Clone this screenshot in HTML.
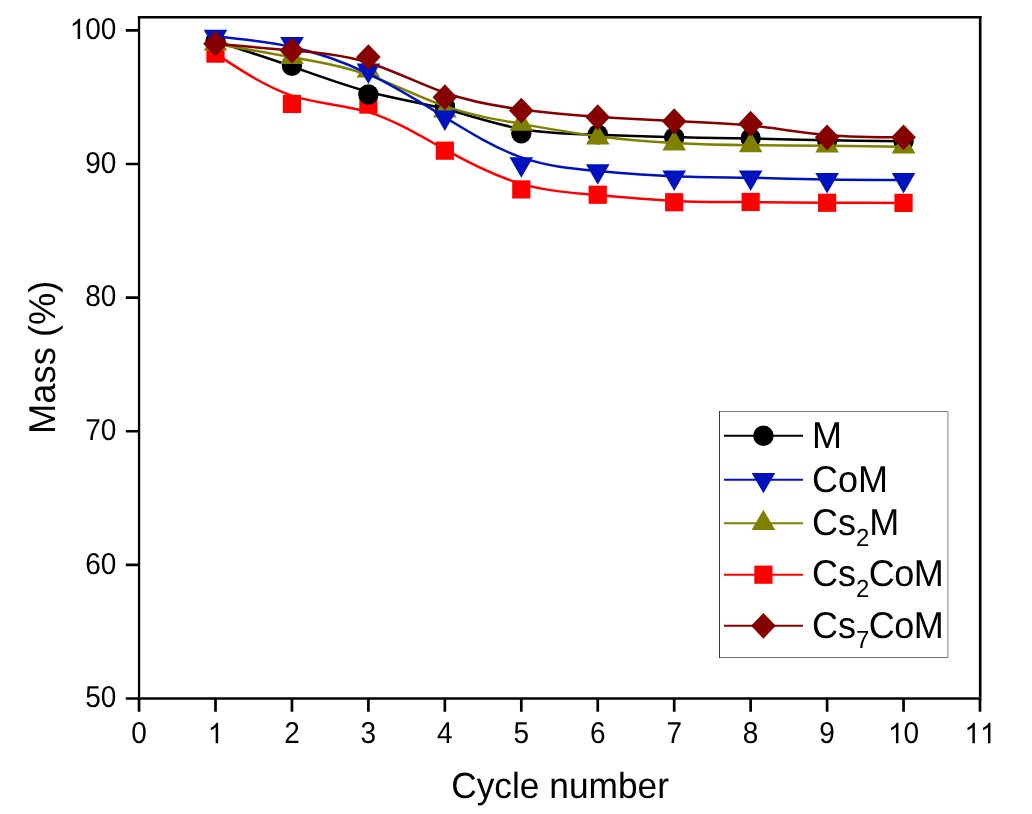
<!DOCTYPE html>
<html><head><meta charset="utf-8"><style>
html,body{margin:0;padding:0;background:#fff;}
svg{display:block;will-change:transform;}
text{font-family:"Liberation Sans",sans-serif;fill:#000;text-rendering:geometricPrecision;}
</style></head><body>
<svg width="1032" height="814" viewBox="0 0 1032 814">
<path d="M215.50,53.65 C240.98,70.40 266.47,87.14 291.95,95.63 C317.43,104.11 342.92,104.34 368.40,112.13 C393.88,119.93 419.37,135.29 444.85,149.43 C470.33,163.57 495.82,176.49 521.30,183.84 C546.78,191.19 572.27,192.97 597.75,195.11 C623.23,197.25 648.72,199.74 674.20,200.94 C699.68,202.15 725.17,202.06 750.65,202.15 C776.13,202.24 801.62,202.50 827.10,202.66 C852.58,202.81 878.07,202.86 903.55,202.90" fill="none" stroke="#FF0000" stroke-width="2.5"/>
<rect x="206.40" y="44.55" width="18.20" height="18.20" fill="#FF0000"/>
<rect x="282.85" y="94.79" width="18.20" height="18.20" fill="#FF0000"/>
<rect x="359.30" y="95.46" width="18.20" height="18.20" fill="#FF0000"/>
<rect x="435.75" y="141.56" width="18.20" height="18.20" fill="#FF0000"/>
<rect x="512.20" y="180.31" width="18.20" height="18.20" fill="#FF0000"/>
<rect x="588.65" y="185.65" width="18.20" height="18.20" fill="#FF0000"/>
<rect x="665.10" y="193.14" width="18.20" height="18.20" fill="#FF0000"/>
<rect x="741.55" y="192.87" width="18.20" height="18.20" fill="#FF0000"/>
<rect x="818.00" y="193.67" width="18.20" height="18.20" fill="#FF0000"/>
<rect x="894.45" y="193.80" width="18.20" height="18.20" fill="#FF0000"/>
<path d="M215.50,41.09 C240.98,49.33 266.47,57.57 291.95,66.48 C317.43,75.39 342.92,84.96 368.40,91.75 C393.88,98.55 419.37,102.55 444.85,109.01 C470.33,115.47 495.82,124.38 521.30,129.01 C546.78,133.64 572.27,134.00 597.75,134.71 C623.23,135.43 648.72,136.49 674.20,137.14 C699.68,137.79 725.17,138.01 750.65,138.50 C776.13,138.99 801.62,139.75 827.10,140.26 C852.58,140.77 878.07,141.04 903.55,141.30" fill="none" stroke="#000000" stroke-width="2.5"/>
<circle cx="215.50" cy="41.09" r="10.20" fill="#000000"/>
<circle cx="291.95" cy="65.81" r="10.20" fill="#000000"/>
<circle cx="368.40" cy="94.54" r="10.20" fill="#000000"/>
<circle cx="444.85" cy="106.56" r="10.20" fill="#000000"/>
<circle cx="521.30" cy="133.29" r="10.20" fill="#000000"/>
<circle cx="597.75" cy="134.36" r="10.20" fill="#000000"/>
<circle cx="674.20" cy="137.56" r="10.20" fill="#000000"/>
<circle cx="750.65" cy="138.23" r="10.20" fill="#000000"/>
<circle cx="827.10" cy="140.50" r="10.20" fill="#000000"/>
<circle cx="903.55" cy="141.30" r="10.20" fill="#000000"/>
<path d="M215.50,43.76 C240.98,48.26 266.47,52.76 291.95,57.26 C317.43,61.76 342.92,66.25 368.40,75.14 C393.88,84.03 419.37,97.30 444.85,106.16 C470.33,115.03 495.82,119.48 521.30,123.98 C546.78,128.48 572.27,133.02 597.75,136.32 C623.23,139.61 648.72,141.66 674.20,142.97 C699.68,144.29 725.17,144.87 750.65,145.20 C776.13,145.54 801.62,145.62 827.10,145.83 C852.58,146.03 878.07,146.34 903.55,146.65" fill="none" stroke="#808000" stroke-width="2.5"/>
<polygon points="203.70,50.57 227.30,50.57 215.50,30.14" fill="#808000"/>
<polygon points="280.15,64.07 303.75,64.07 291.95,43.63" fill="#808000"/>
<polygon points="356.60,77.57 380.20,77.57 368.40,57.13" fill="#808000"/>
<polygon points="433.05,117.38 456.65,117.38 444.85,96.95" fill="#808000"/>
<polygon points="509.50,130.75 533.10,130.75 521.30,110.31" fill="#808000"/>
<polygon points="585.95,144.38 609.55,144.38 597.75,123.94" fill="#808000"/>
<polygon points="662.40,150.52 686.00,150.52 674.20,130.08" fill="#808000"/>
<polygon points="738.85,152.26 762.45,152.26 750.65,131.82" fill="#808000"/>
<polygon points="815.30,152.53 838.90,152.53 827.10,132.09" fill="#808000"/>
<polygon points="891.75,153.46 915.35,153.46 903.55,133.02" fill="#808000"/>
<path d="M215.50,36.55 C240.98,38.95 266.47,41.36 291.95,46.99 C317.43,52.63 342.92,61.49 368.40,73.74 C393.88,85.99 419.37,101.62 444.85,117.23 C470.33,132.84 495.82,148.43 521.30,157.41 C546.78,166.38 572.27,168.74 597.75,170.97 C623.23,173.20 648.72,175.29 674.20,176.34 C699.68,177.38 725.17,177.38 750.65,177.81 C776.13,178.23 801.62,179.07 827.10,179.50 C852.58,179.92 878.07,179.92 903.55,179.92" fill="none" stroke="#0012BE" stroke-width="2.5"/>
<polygon points="203.70,29.73 227.30,29.73 215.50,50.17" fill="#0012BE"/>
<polygon points="280.15,36.95 303.75,36.95 291.95,57.39" fill="#0012BE"/>
<polygon points="356.60,63.54 380.20,63.54 368.40,83.98" fill="#0012BE"/>
<polygon points="433.05,110.44 456.65,110.44 444.85,130.88" fill="#0012BE"/>
<polygon points="509.50,157.21 533.10,157.21 521.30,177.65" fill="#0012BE"/>
<polygon points="585.95,164.29 609.55,164.29 597.75,184.73" fill="#0012BE"/>
<polygon points="662.40,170.57 686.00,170.57 674.20,191.01" fill="#0012BE"/>
<polygon points="738.85,170.57 762.45,170.57 750.65,191.01" fill="#0012BE"/>
<polygon points="815.30,173.11 838.90,173.11 827.10,193.55" fill="#0012BE"/>
<polygon points="891.75,173.11 915.35,173.11 903.55,193.55" fill="#0012BE"/>
<path d="M215.50,43.76 C240.98,46.03 266.47,48.31 291.95,50.53 C317.43,52.76 342.92,54.94 368.40,62.71 C393.88,70.49 419.37,83.85 444.85,92.76 C470.33,101.66 495.82,106.12 521.30,109.46 C546.78,112.80 572.27,115.03 597.75,116.81 C623.23,118.59 648.72,119.93 674.20,120.99 C699.68,122.06 725.17,122.87 750.65,125.54 C776.13,128.21 801.62,132.75 827.10,135.02 C852.58,137.30 878.07,137.30 903.55,137.30" fill="none" stroke="#860000" stroke-width="2.5"/>
<polygon points="215.50,30.86 227.80,43.76 215.50,56.66 203.20,43.76" fill="#860000"/>
<polygon points="291.95,37.68 304.25,50.58 291.95,63.48 279.65,50.58" fill="#860000"/>
<polygon points="368.40,44.22 380.70,57.12 368.40,70.02 356.10,57.12" fill="#860000"/>
<polygon points="444.85,84.31 457.15,97.21 444.85,110.11 432.55,97.21" fill="#860000"/>
<polygon points="521.30,97.67 533.60,110.57 521.30,123.47 509.00,110.57" fill="#860000"/>
<polygon points="597.75,104.35 610.05,117.25 597.75,130.15 585.45,117.25" fill="#860000"/>
<polygon points="674.20,108.36 686.50,121.26 674.20,134.16 661.90,121.26" fill="#860000"/>
<polygon points="750.65,110.77 762.95,123.67 750.65,136.57 738.35,123.67" fill="#860000"/>
<polygon points="827.10,124.40 839.40,137.30 827.10,150.20 814.80,137.30" fill="#860000"/>
<polygon points="903.55,124.40 915.85,137.30 903.55,150.20 891.25,137.30" fill="#860000"/>
<path d="M139.05,697.15V15.899999999999999" stroke="#000" stroke-width="2.3" fill="none"/>
<path d="M980.2,697.15V15.899999999999999" stroke="#000" stroke-width="2.6" fill="none"/>
<path d="M137.9,17.2H981.5" stroke="#000" stroke-width="2.6" fill="none"/>
<path d="M137.9,698.5H981.5" stroke="#000" stroke-width="2.7" fill="none"/>
<text transform="translate(131.26,743.20) scale(1,1.08)" font-size="28">0</text>
<path transform="translate(207.71,743.20) scale(0.01367,-0.01395)" d="M763,0L583,0L583,1147Q518,1085 413,1023Q307,961 223,930L223,1104Q374,1175 487,1276Q600,1377 647,1466L763,1466Z"/>
<text transform="translate(284.16,743.20) scale(1,1.08)" font-size="28">2</text>
<text transform="translate(360.61,743.20) scale(1,1.08)" font-size="28">3</text>
<text transform="translate(437.06,743.20) scale(1,1.08)" font-size="28">4</text>
<text transform="translate(513.51,743.20) scale(1,1.08)" font-size="28">5</text>
<text transform="translate(589.96,743.20) scale(1,1.08)" font-size="28">6</text>
<text transform="translate(666.41,743.20) scale(1,1.08)" font-size="28">7</text>
<text transform="translate(742.86,743.20) scale(1,1.08)" font-size="28">8</text>
<text transform="translate(819.31,743.20) scale(1,1.08)" font-size="28">9</text>
<path transform="translate(887.98,743.20) scale(0.01367,-0.01395)" d="M763,0L583,0L583,1147Q518,1085 413,1023Q307,961 223,930L223,1104Q374,1175 487,1276Q600,1377 647,1466L763,1466Z"/>
<text transform="translate(903.55,743.20) scale(1,1.08)" font-size="28">0</text>
<path transform="translate(964.43,743.20) scale(0.01367,-0.01395)" d="M763,0L583,0L583,1147Q518,1085 413,1023Q307,961 223,930L223,1104Q374,1175 487,1276Q600,1377 647,1466L763,1466Z"/>
<path transform="translate(980.00,743.20) scale(0.01367,-0.01395)" d="M763,0L583,0L583,1147Q518,1085 413,1023Q307,961 223,930L223,1104Q374,1175 487,1276Q600,1377 647,1466L763,1466Z"/>
<text transform="translate(85.26,707.20) scale(1,1.08)" font-size="28">5</text>
<text transform="translate(100.83,707.20) scale(1,1.08)" font-size="28">0</text>
<text transform="translate(85.26,573.58) scale(1,1.08)" font-size="28">6</text>
<text transform="translate(100.83,573.58) scale(1,1.08)" font-size="28">0</text>
<text transform="translate(85.26,439.96) scale(1,1.08)" font-size="28">7</text>
<text transform="translate(100.83,439.96) scale(1,1.08)" font-size="28">0</text>
<text transform="translate(85.26,306.34) scale(1,1.08)" font-size="28">8</text>
<text transform="translate(100.83,306.34) scale(1,1.08)" font-size="28">0</text>
<text transform="translate(85.26,172.72) scale(1,1.08)" font-size="28">9</text>
<text transform="translate(100.83,172.72) scale(1,1.08)" font-size="28">0</text>
<path transform="translate(69.68,39.10) scale(0.01367,-0.01395)" d="M763,0L583,0L583,1147Q518,1085 413,1023Q307,961 223,930L223,1104Q374,1175 487,1276Q600,1377 647,1466L763,1466Z"/>
<text transform="translate(85.26,39.10) scale(1,1.08)" font-size="28">0</text>
<text transform="translate(100.83,39.10) scale(1,1.08)" font-size="28">0</text>
<path d="M139.05,698.50V711.8M215.50,698.50V711.8M291.95,698.50V711.8M368.40,698.50V711.8M444.85,698.50V711.8M521.30,698.50V711.8M597.75,698.50V711.8M674.20,698.50V711.8M750.65,698.50V711.8M827.10,698.50V711.8M903.55,698.50V711.8M980.00,698.50V711.8M125.8,698.50H139.05M125.8,564.88H139.05M125.8,431.26H139.05M125.8,297.64H139.05M125.8,164.02H139.05M125.8,30.40H139.05" stroke="#000" stroke-width="2.7" fill="none"/>
<text transform="translate(560.10,797.90) scale(1,1.03)" font-size="35.3" text-anchor="middle">Cycle number</text>
<text transform="translate(54.50,357.30) rotate(-90) scale(1,1.03)" font-size="36.3" text-anchor="middle">Mass (%)</text>
<rect x="719" y="411" width="1" height="247" fill="#383838"/>
<rect x="720" y="411" width="228" height="1" fill="#7a7a7a"/>
<rect x="947" y="412" width="1" height="245" fill="#b4b4b4"/>
<rect x="948" y="412" width="1" height="245" fill="#c8c8c8"/>
<rect x="720" y="657" width="228" height="1" fill="#707070"/>
<path d="M724,435.8H803" stroke="#000000" stroke-width="2"/>
<circle cx="763.40" cy="435.80" r="10.20" fill="#000000"/>
<text transform="translate(812.00,448.20) scale(1,1.035)" font-size="36">M</text>
<path d="M724,479.7H803" stroke="#0012BE" stroke-width="2"/>
<polygon points="751.60,472.89 775.20,472.89 763.40,493.33" fill="#0012BE"/>
<text transform="translate(812.00,491.70) scale(1,1.035)" font-size="36">CoM</text>
<path d="M724,523.3H803" stroke="#808000" stroke-width="2"/>
<polygon points="751.60,530.11 775.20,530.11 763.40,509.67" fill="#808000"/>
<text transform="translate(812.00,535.00) scale(1,1.035)" font-size="36">Cs<tspan font-size="24" dy="10.2">2</tspan><tspan dy="-10.2">M</tspan></text>
<path d="M724,574.7H803" stroke="#FF0000" stroke-width="2"/>
<rect x="754.30" y="565.60" width="18.20" height="18.20" fill="#FF0000"/>
<text transform="translate(812.00,586.00) scale(1,1.035)" font-size="36">Cs<tspan font-size="24" dy="10.2">2</tspan><tspan dy="-10.2" dx="-0.5 -0.5 -0.6">CoM</tspan></text>
<path d="M724,625.8H803" stroke="#860000" stroke-width="2"/>
<polygon points="763.40,612.90 775.70,625.80 763.40,638.70 751.10,625.80" fill="#860000"/>
<text transform="translate(812.00,637.90) scale(1,1.035)" font-size="36">Cs<tspan font-size="24" dy="10.2">7</tspan><tspan dy="-10.2" dx="-0.5 -0.5 -0.6">CoM</tspan></text>
</svg>
</body></html>
